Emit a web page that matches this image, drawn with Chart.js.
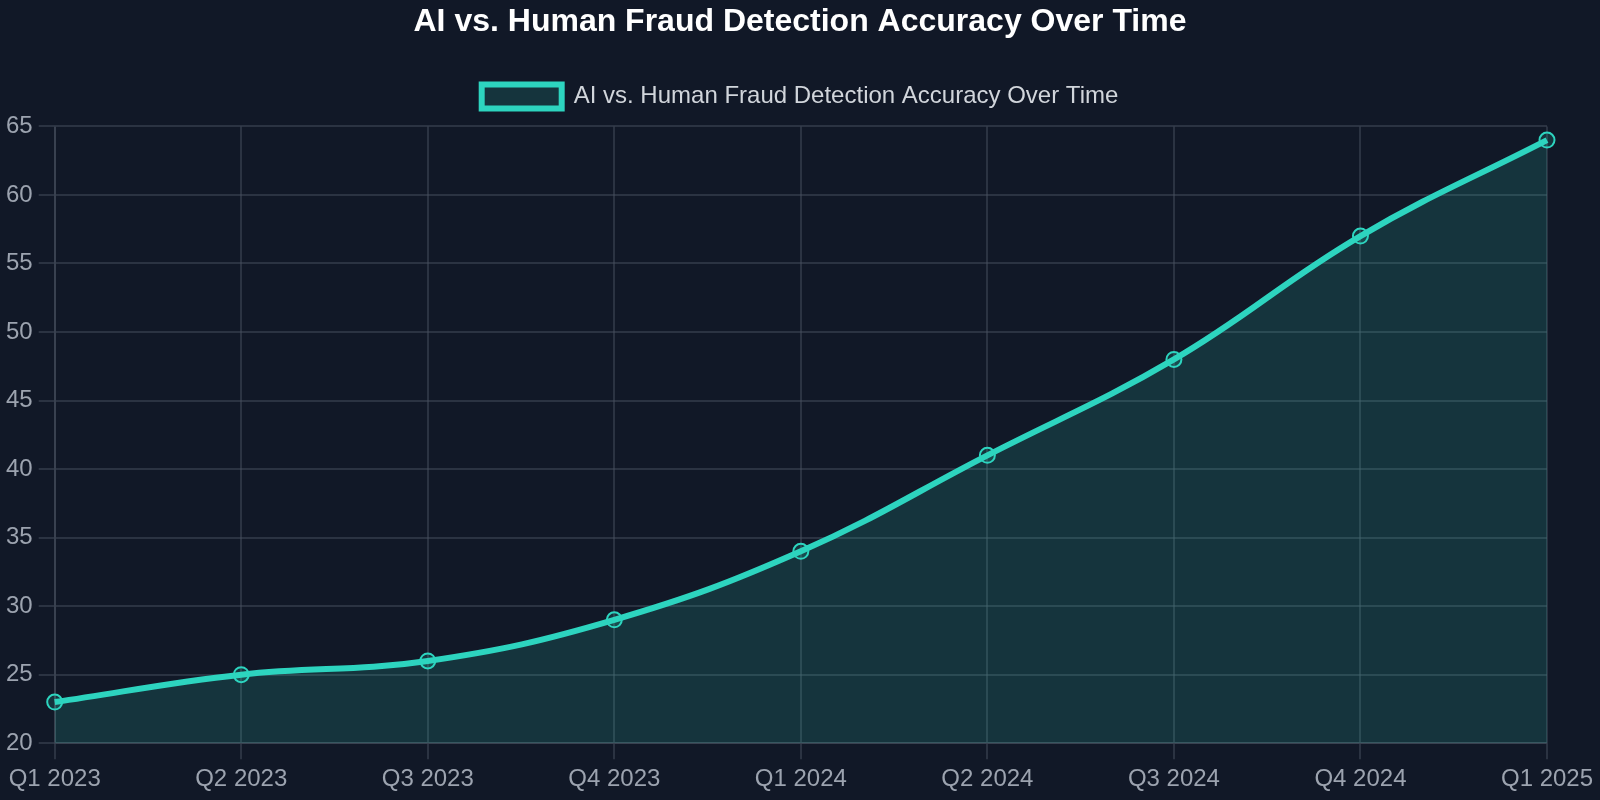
<!DOCTYPE html>
<html>
<head>
<meta charset="utf-8">
<script src="https://cdn.jsdelivr.net/npm/chart.js@4/dist/chart.umd.min.js"></script>
<style>
  html, body { margin: 0; padding: 0; background: #111827; overflow: hidden; }
  #wrap { width: 1600px; height: 800px; }
  canvas { display: block; }
</style>
</head>
<body>
<div id="wrap"><canvas id="chart"></canvas></div>
<script>
var quarters = ['Q1 2023', 'Q2 2023', 'Q3 2023', 'Q4 2023', 'Q1 2024', 'Q2 2024', 'Q3 2024', 'Q4 2024', 'Q1 2025'];
var accuracy = [23, 25, 26, 29, 34, 41, 48, 57, 64];
var seriesName = 'AI vs. Human Fraud Detection Accuracy Over Time';

var teal = '#2dd4bf';
var tealFill = 'rgba(45, 212, 191, 0.15)';
var gridColor = 'rgba(75, 85, 99, 0.45)';
var fontFamily = 'Liberation Sans, Arial, sans-serif';

// a bit more space between the legend and the plot
var legendGap = {
    id: 'legendGap',
    beforeInit: function (chart) {
        var fit = chart.legend.fit;
        chart.legend.fit = function () {
            fit.call(this);
            this.height += 8;
        };
    }
};

new Chart(document.getElementById('chart'), {
    type: 'line',
    data: {
        labels: quarters,
        datasets: [{
            label: seriesName,
            data: accuracy,
            borderColor: teal,
            backgroundColor: tealFill,
            borderWidth: 6,
            fill: true,
            tension: 0.4,
            pointRadius: 7.5,
            pointBorderWidth: 2,
            pointBackgroundColor: tealFill,
            pointBorderColor: teal
        }]
    },
    plugins: [legendGap],
    options: {
        responsive: true,
        maintainAspectRatio: false,
        animation: false,
        layout: { padding: 0 },
        plugins: {
            title: {
                display: true,
                text: seriesName,
                color: '#ffffff',
                font: { family: fontFamily, size: 32, weight: 'bold' },
                padding: { top: 3, bottom: 7 }
            },
            legend: {
                labels: {
                    color: '#d1d5db',
                    font: { family: fontFamily, size: 24 },
                    boxWidth: 80,
                    boxHeight: 24,
                    padding: 36
                }
            },
            tooltip: { enabled: false }
        },
        scales: {
            x: {
                grid: { color: gridColor, lineWidth: 2, tickLength: 16 },
                border: { color: gridColor, width: 2 },
                ticks: {
                    color: '#9ca3af',
                    font: { family: fontFamily, size: 24 },
                    maxRotation: 0,
                    padding: 6
                },
                // room on the right like the original
                afterFit: function (scale) { scale.paddingRight = 53; }
            },
            y: {
                min: 20,
                max: 65,
                grid: { color: gridColor, lineWidth: 2, tickLength: 16 },
                border: { color: gridColor, width: 2 },
                ticks: {
                    stepSize: 5,
                    color: '#9ca3af',
                    font: { family: fontFamily, size: 24 },
                    padding: 6
                }
            }
        }
    }
});
</script>
</body>
</html>
